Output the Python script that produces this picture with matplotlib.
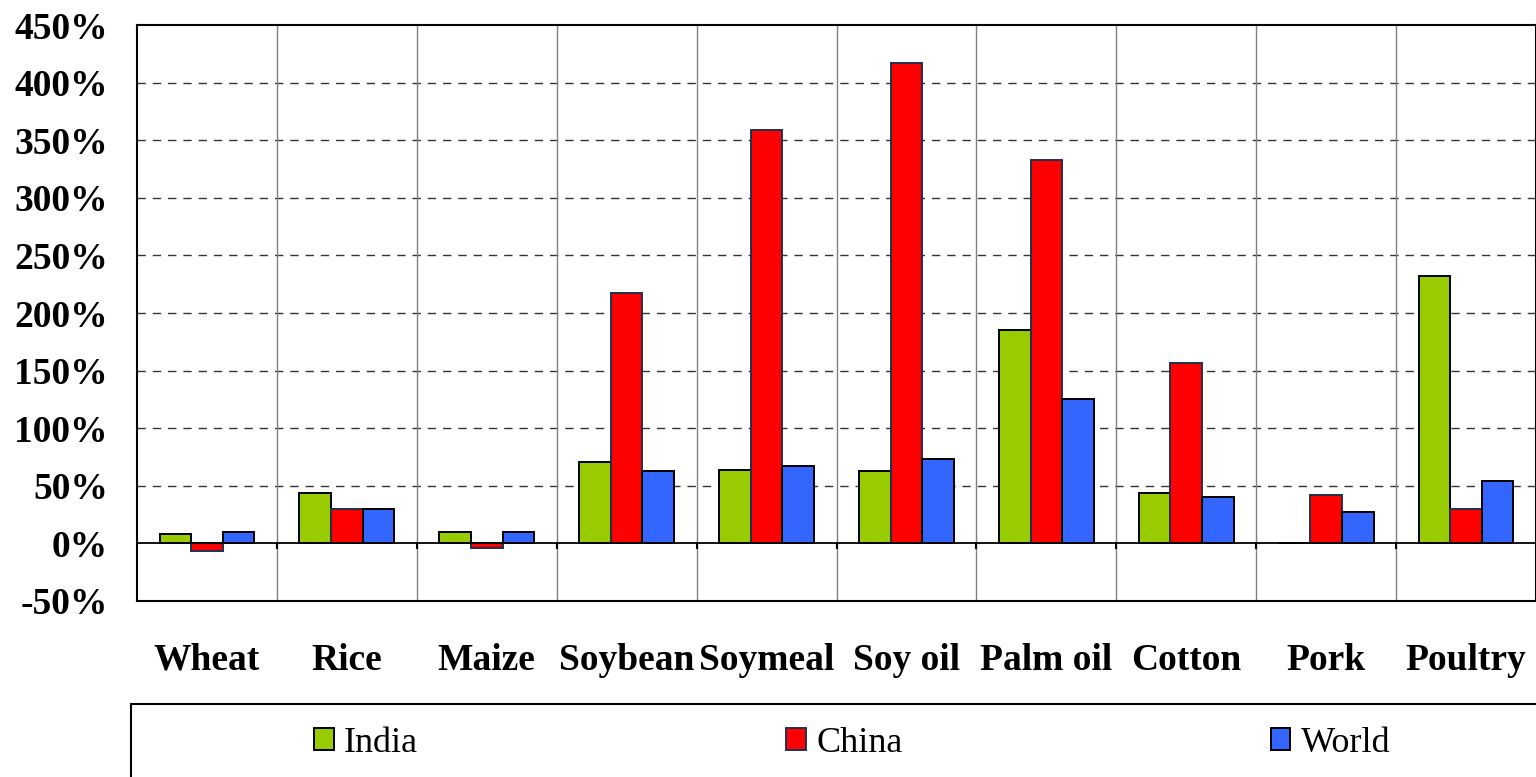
import matplotlib
matplotlib.use("Agg")
from matplotlib import pyplot as plt
from matplotlib.patches import Rectangle
import numpy as np

categories = ['Wheat', 'Rice', 'Maize', 'Soybean', 'Soymeal', 'Soy oil',
              'Palm oil', 'Cotton', 'Pork', 'Poultry']
india = [8, 44, 10, 71, 64, 63, 185, 44, 0, 232]
china = [-7, 30, -4, 217, 359, 417, 333, 157, 42, 30]
world = [10, 30, 10, 63, 67, 73, 125, 40, 27, 54]
yticks = [-50, 0, 50, 100, 150, 200, 250, 300, 350, 400, 450]

plt.rcParams['font.family'] = ['Liberation Serif', 'DejaVu Serif']

fig = plt.figure(figsize=(15.36, 7.77), dpi=100)
ax = fig.add_axes([137 / 1536, 176 / 777, 1399 / 1536, 576 / 777])

x = np.arange(len(categories))
w = 0.226
ax.bar(x - w, india, w, color='#99CC00', edgecolor='black', linewidth=1.4, label='India', zorder=3)
ax.bar(x, china, w, color='#FF0000', edgecolor='#1F3050', linewidth=1.4, label='China', zorder=3)
ax.bar(x + w, world, w, color='#3366FF', edgecolor='black', linewidth=1.4, label='World', zorder=3)

ax.set_xlim(-0.5, len(categories) - 0.5)
ax.set_ylim(-50, 450)
ax.set_yticks(yticks)
ax.set_yticklabels(['%d%%' % v for v in yticks], fontsize=27, fontweight='bold')
ax.set_xticks(x)
ax.set_xticklabels(categories, fontsize=27, fontweight='bold')
ax.tick_params(axis='y', length=0, pad=21)
ax.tick_params(axis='x', length=0, pad=30)

# dashed horizontal grid
for v in yticks[2:-1]:
    ax.axhline(v, color='#333333', linewidth=1.0, linestyle=(0, (6, 5)), zorder=1)
# vertical separators between categories
for b in x[:-1] + 0.5:
    ax.axvline(b, color='#808080', linewidth=1.0, zorder=1)
    ax.plot([b, b], [0, -4], color='black', linewidth=1.5, zorder=2)
ax.axhline(0, color='black', linewidth=1.3, zorder=4)

for s in ax.spines.values():
    s.set_linewidth(1.5)
    s.set_color('black')

# legend box
fig.add_artist(Rectangle((131 / 1536, -0.1), 1.0, (777 - 704) / 777 + 0.1,
                         transform=fig.transFigure, fill=False,
                         edgecolor='black', linewidth=1.5))
leg = fig.legend(loc='center', bbox_to_anchor=(852 / 1536, 1 - 743 / 777),
                 ncol=3, frameon=False, prop={'size': 26},
                 handlelength=0.55, handleheight=0.55, handletextpad=0.28,
                 columnspacing=10.2)
for h in leg.legend_handles:
    h.set_linewidth(1.4)

fig.savefig('out.png', dpi=100)
